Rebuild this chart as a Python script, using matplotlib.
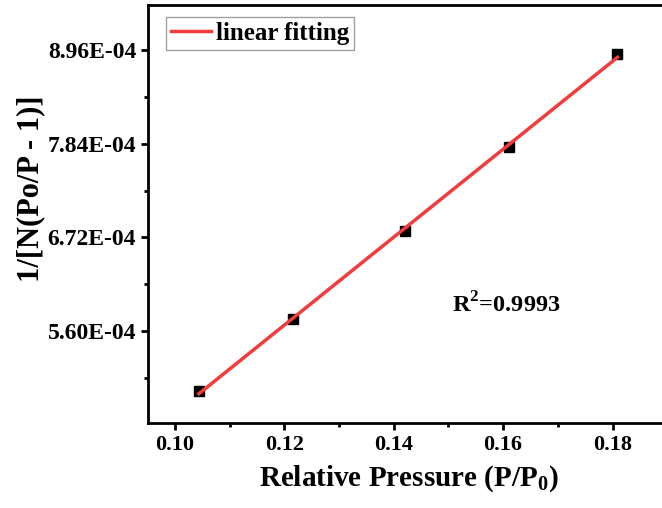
import numpy as np
import matplotlib
matplotlib.use("Agg")
import matplotlib.pyplot as plt
from matplotlib.ticker import MultipleLocator, FuncFormatter

# BET plot points
rel_pressure = [0.1044, 0.1216, 0.1420, 0.1610, 0.1809]
bet_values = [4.883e-4, 5.743e-4, 6.792e-4, 7.804e-4, 8.912e-4]

y_ticks = [5.60e-4, 6.72e-4, 7.84e-4, 8.96e-4]
r2_label = "R$^{2}$=0.9993"

plt.rcParams["font.family"] = ["Liberation Serif", "DejaVu Serif"]
plt.rcParams["font.weight"] = "bold"
plt.rcParams["mathtext.fontset"] = "custom"
plt.rcParams["mathtext.rm"] = "Liberation Serif:bold"
plt.rcParams["mathtext.bf"] = "Liberation Serif:bold"

fig = plt.figure(figsize=(6.62, 5.08), dpi=100)
ax = fig.add_axes([148 / 662, 1 - 423 / 508, 522 / 662, 418 / 508])

x = np.array(rel_pressure)
y = np.array(bet_values)
slope, intercept = np.polyfit(x, y, 1)

ax.plot(x, y, "s", color="black", markersize=7, zorder=2)
ax.plot(x, slope * x + intercept, color="#f03c3c", linewidth=2.5, label="linear fitting", zorder=3)

ax.set_xlim(0.0951, 0.1905)
ax.set_ylim(4.50e-4, 9.50e-4)
ax.xaxis.set_major_locator(MultipleLocator(0.02))
ax.xaxis.set_minor_locator(MultipleLocator(0.01))
ax.set_yticks(y_ticks)
ax.yaxis.set_minor_locator(MultipleLocator(0.56e-4))
ax.xaxis.set_major_formatter(FuncFormatter(lambda v, p: f"{v:.2f}"))
ax.yaxis.set_major_formatter(FuncFormatter(lambda v, p: f"{v:.2E}"))

for s in ax.spines.values():
    s.set_linewidth(2)
ax.tick_params(which="both", direction="out", width=2)
ax.tick_params(axis="x", labelsize=16)
ax.tick_params(axis="y", labelsize=17)
ax.tick_params(which="major", length=5)
ax.tick_params(which="minor", length=3)

ax.set_xlabel("Relative Pressure (P/P$_{0}$)", fontsize=21, fontweight="bold", labelpad=6)
ax.set_ylabel("1/[N(Po/P - 1)]", fontsize=22, fontweight="bold")
ax.yaxis.set_label_coords(-0.196, 0.56)

ax.text(0.1605, 5.91e-4, r2_label, fontsize=17.5, fontweight="bold", ha="center", va="center")

leg = ax.legend(loc="upper left", fontsize=18, frameon=True, fancybox=False,
                handlelength=1.6, borderpad=0.2, handletextpad=0.2,
                bbox_to_anchor=(0.034, 0.972), borderaxespad=0)
leg.get_frame().set_edgecolor("#888888")
leg.get_frame().set_linewidth(1)

fig.savefig("out.png", dpi=100)
